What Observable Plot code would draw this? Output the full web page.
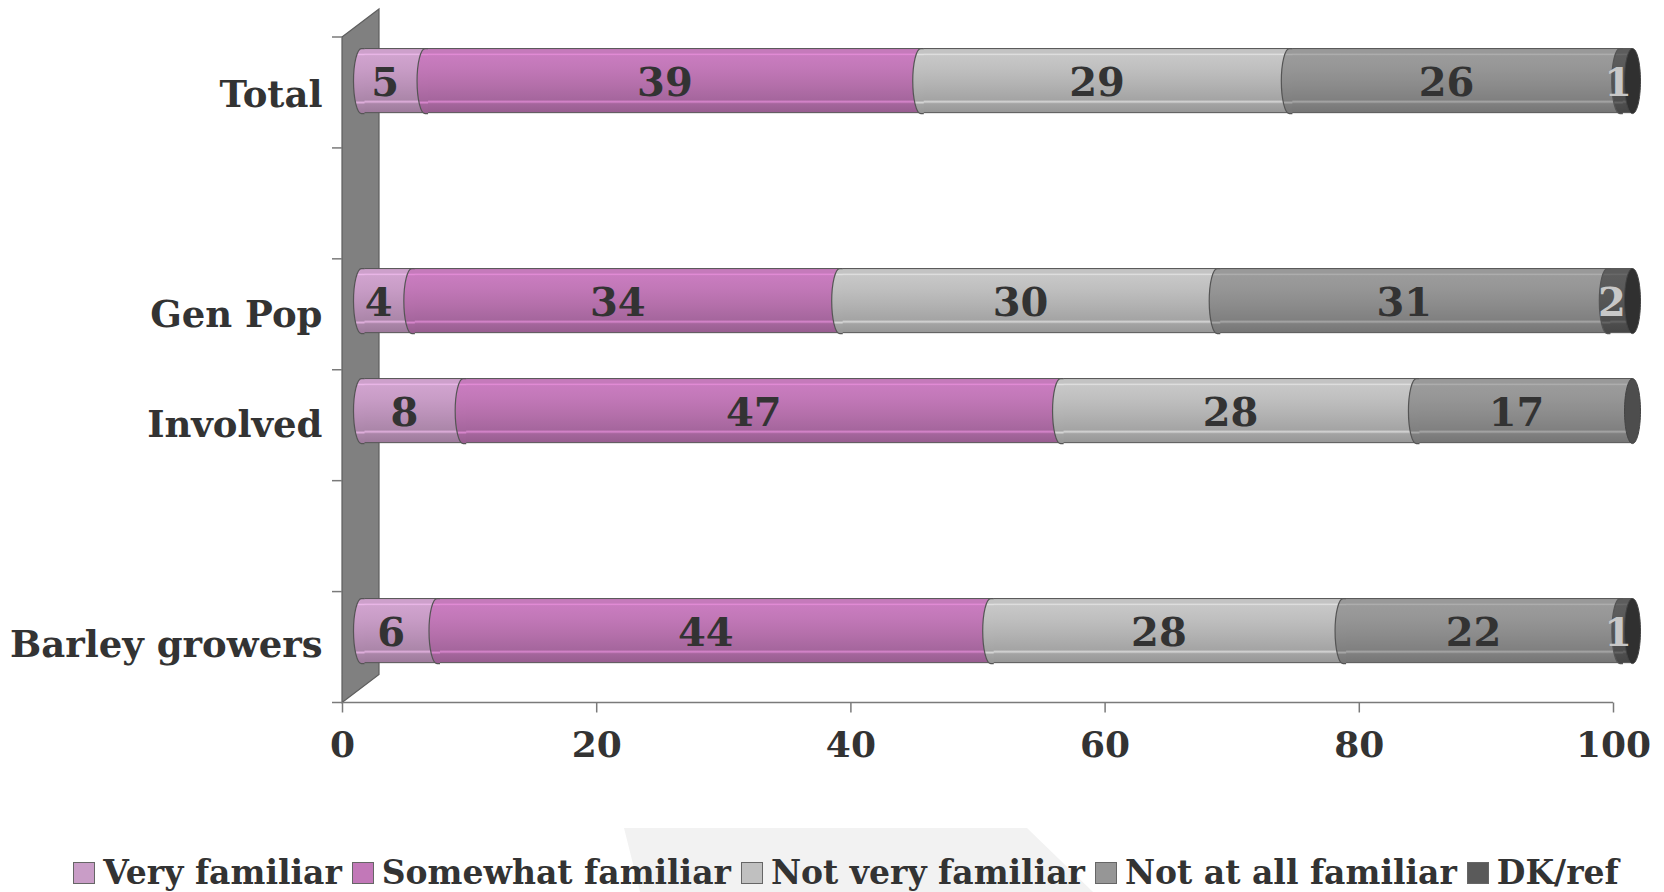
<!DOCTYPE html>
<html>
<head>
<meta charset="utf-8">
<script src="https://cdn.jsdelivr.net/npm/d3@7"></script>
<script src="https://cdn.jsdelivr.net/npm/@observablehq/plot@0.6"></script>
<style>
  html, body { margin: 0; padding: 0; background: #ffffff; }
  body { width: 1664px; height: 892px; overflow: hidden; position: relative; font-family: "DejaVu Serif", serif; }
  #chart { position: absolute; left: 0; top: 0; }
  #bgshape { position: absolute; left: 620px; top: 828px; width: 480px; height: 64px; background: #f2f2f2;
             clip-path: polygon(4px 0, 407px 0, 473px 64px, 20px 64px); }
  #legend { position: absolute; left: 14px; top: 853px; width: 1664px; display: flex; justify-content: center;
            align-items: center; font-family: "DejaVu Serif", serif; font-weight: bold; font-size: 33px; color: #333; }
  .item { display: flex; align-items: center; margin: 0 5px; white-space: nowrap; }
  .sw { width: 20px; height: 20px; border: 1.5px solid #666; margin-right: 8px; }
</style>
</head>
<body>
<div id="chart"></div>
<div id="bgshape"></div>
<div id="legend"></div>
<script>
// ---------- data ----------
const categories = ["Total", "Gen Pop", "Involved", "Barley growers"];
const yBands = ["Total", " ", "Gen Pop", "Involved", "  ", "Barley growers"];
const series = ["Very familiar", "Somewhat familiar", "Not very familiar", "Not at all familiar", "DK/ref"];
const veryFamiliar      = [5, 4, 8, 6];
const somewhatFamiliar  = [39, 34, 47, 44];
const notVeryFamiliar   = [29, 30, 28, 28];
const notAtAllFamiliar  = [26, 31, 17, 22];
const dkRef             = [1, 2, 0, 1];
const xTicks = [0, 20, 40, 60, 80, 100];

// ---------- styles ----------
const seriesColors = ["#c99dc7", "#c278b8", "#c0c0c0", "#969696", "#5a5a5a"];
const capColors    = ["#8a6a88", "#7d4a76", "#7a7a7a", "#4d4d4d", "#303030"];
const labelColors  = ["#333333", "#333333", "#333333", "#333333", "#c8c8c8"];

const valuesBySeries = [veryFamiliar, somewhatFamiliar, notVeryFamiliar, notAtAllFamiliar, dkRef];
const data = [];
categories.forEach((g, gi) => {
  let last = -1;
  valuesBySeries.forEach((arr, si) => { if (arr[gi] > 0) last = si; });
  valuesBySeries.forEach((arr, si) => {
    if (arr[gi] > 0) data.push({group: g, series: series[si], si, value: arr[gi], last: si === last});
  });
});

// geometry (style)
const W = 1664, H = 772;
const BAR_H = 65, DX = 19, DY = -14.4, CAP_RX = 8;
const DEPTH_X = 37, DEPTH_Y = -28;
const K = 0.5523;

const halfEllipse = {
  draw(ctx) {
    const rx = CAP_RX, ry = BAR_H / 2;
    ctx.moveTo(3, -ry);
    ctx.lineTo(0, -ry);
    ctx.bezierCurveTo(-K * rx, -ry, -rx, -K * ry, -rx, 0);
    ctx.bezierCurveTo(-rx, K * ry, -K * rx, ry, 0, ry);
    ctx.lineTo(3, ry);
  }
};
const fullEllipse = {
  draw(ctx) {
    const rx = CAP_RX, ry = BAR_H / 2;
    ctx.moveTo(0, -ry);
    ctx.bezierCurveTo(K * rx, -ry, rx, -K * ry, rx, 0);
    ctx.bezierCurveTo(rx, K * ry, K * rx, ry, 0, ry);
    ctx.bezierCurveTo(-K * rx, ry, -rx, K * ry, -rx, 0);
    ctx.bezierCurveTo(-rx, -K * ry, -K * rx, -ry, 0, -ry);
    ctx.closePath();
  }
};

const NS = "http://www.w3.org/2000/svg";
function el(tag, attrs) {
  const e = document.createElementNS(NS, tag);
  for (const k in attrs) e.setAttribute(k, attrs[k]);
  return e;
}

// gradient defs + 3D wall, drawn from the scales
function backdrop(index, scales, values, dims) {
  const g = el("g", {});
  const defs = el("defs", {});
  seriesColors.forEach((c, i) => {
    const base = d3.color(c);
    const lg = el("linearGradient", {id: "grad" + i, x1: 0, y1: 0, x2: 0, y2: 1});
    const stops = [
      [0, base.brighter(0.05)], [0.07, base.brighter(0.05)], [0.09, base.brighter(0.45)], [0.11, base.brighter(0.1)],
      [0.3, base.brighter(0.0)], [0.55, base.darker(0.2)], [0.8, base.darker(0.45)],
      [0.83, base.brighter(0.3)], [0.86, base.darker(0.45)], [1, base.darker(0.7)]
    ];
    stops.forEach(([o, col]) => lg.appendChild(el("stop", {offset: o, "stop-color": col.formatHex()})));
    defs.appendChild(lg);
  });
  g.appendChild(defs);
  const x0 = scales.x(0), x1 = scales.x(1);
  const top = dims.marginTop, bottom = dims.height - dims.marginBottom;
  g.appendChild(el("polygon", {
    points: `${x0},${top} ${x0 + DEPTH_X},${top + DEPTH_Y} ${x0 + DEPTH_X},${bottom + DEPTH_Y} ${x0},${bottom}`,
    fill: "#808080", stroke: "#5e5e5e", "stroke-width": 1.2
  }));
  const n = yBands.length, bw = (bottom - top) / n;
  for (let k = 0; k <= n; k++) {
    const y = top + k * bw;
    g.appendChild(el("line", {x1: x0 - 10, x2: x0, y1: y, y2: y, stroke: "#7a7a7a", "stroke-width": 1.5}));
  }
  g.appendChild(el("line", {x1: x0, x2: x1, y1: bottom, y2: bottom, stroke: "#7a7a7a", "stroke-width": 1.5}));
  return g;
}

const stackOpts = {x: "value", y: "group", z: "series", offset: "normalize", order: null};

const chart = Plot.plot({
  width: W,
  height: H,
  marginLeft: 342,
  marginRight: 51,
  marginTop: 37,
  marginBottom: 69.5,
  style: {fontFamily: "DejaVu Serif", fontWeight: "bold", fontSize: "36px", color: "#333", background: "transparent", overflow: "visible"},
  x: {domain: [0, 1]},
  y: {domain: yBands, padding: 0},
  color: {domain: series, range: series.map((s, i) => `url(#grad${i})`)},
  marks: [
    backdrop,
    Plot.barX(data, Plot.stackX({...stackOpts, fill: "series", insetTop: 22.95, insetBottom: 22.95, dx: DX, dy: DY,
      stroke: "#555", strokeWidth: 1})),
    Plot.dot(data, Plot.stackX1({...stackOpts, fill: "series", symbol: halfEllipse, r: 5, dx: DX, dy: DY,
      stroke: "#555", strokeWidth: 1.2})),
    Plot.dot(data, Plot.stackX2({...stackOpts, symbol: fullEllipse, r: 5, dx: DX, dy: DY,
      fill: {value: d => d.last ? capColors[d.si] : "none", scale: null},
      stroke: {value: d => d.last ? "#444" : "none", scale: null}, strokeWidth: 1})),
    Plot.text(data, Plot.stackX({...stackOpts, text: d => String(d.value), dx: DX - 8, dy: DY + 2,
      fill: {value: d => labelColors[d.si], scale: null}, fontSize: 40, fontWeight: "bold"})),
    Plot.axisX({ticks: xTicks.map(t => t / 100), tickFormat: d => String(Math.round(d * 100)), tickSize: 10,
      tickPadding: 18, stroke: "#7a7a7a", strokeWidth: 1.5, fill: "#333", fontSize: 36, label: null}),
    Plot.axisY({tickSize: 0, tickPadding: 20, tickFormat: d => d.trim(), fill: "#333", fontSize: 37, label: null})
  ]
});
document.getElementById("chart").appendChild(chart);

// legend
const legend = document.getElementById("legend");
series.forEach((s, i) => {
  const item = document.createElement("div");
  item.className = "item";
  const sw = document.createElement("div");
  sw.className = "sw";
  sw.style.background = seriesColors[i];
  const t = document.createElement("span");
  t.textContent = s;
  item.appendChild(sw);
  item.appendChild(t);
  legend.appendChild(item);
});
</script>
</body>
</html>
